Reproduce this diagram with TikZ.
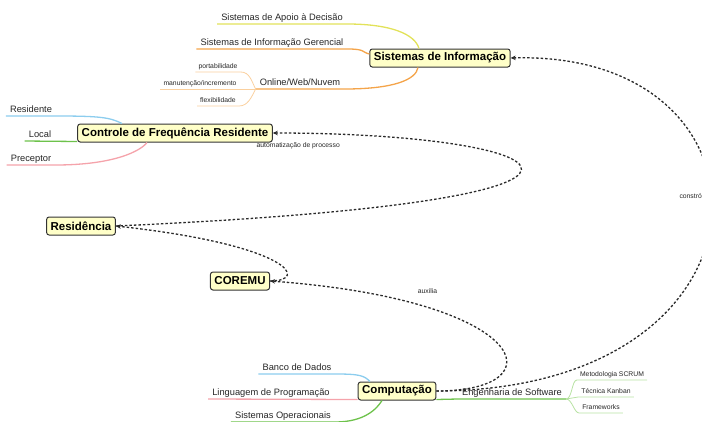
\documentclass[tikz,border=0pt]{standalone}
\usepackage{fontspec}
\setmainfont{Liberation Sans}
\usetikzlibrary{arrows.meta,positioning}

\definecolor{boxfill}{HTML}{FFFFC8}
\definecolor{boxline}{HTML}{333333}
\definecolor{lineY}{HTML}{E2E25A}
\definecolor{lineO}{HTML}{F4A44A}
\definecolor{lineLO}{HTML}{FAD09E}
\definecolor{lineB}{HTML}{8CCDEE}
\definecolor{lineG}{HTML}{6DC24B}
\definecolor{lineLG}{HTML}{B8E2A3}
\definecolor{lineP}{HTML}{F5A3AB}
\definecolor{dashc}{HTML}{2A2A2A}

\begin{document}
\begin{tikzpicture}[x=1pt,y=-1pt,>={Stealth[length=5pt,width=4.5pt]}]
  \tikzstyle{nodeM}=[draw=boxline,line width=1pt,fill=boxfill,rounded corners=2.5pt,inner xsep=4pt,minimum height=18pt,font=\fontsize{11.5}{13}\selectfont\bfseries]
  \tikzstyle{nodeT}=[anchor=south,inner xsep=4pt,inner ysep=1.5pt,text depth=2pt,text=black!85,font=\fontsize{9.3}{11}\selectfont]
  \tikzstyle{nodeS}=[nodeT,inner xsep=3pt,text depth=1.5pt,font=\fontsize{6.8}{8}\selectfont]
  \tikzstyle{lineM}=[line width=1.3pt]
  \tikzstyle{lineS}=[line width=0.8pt]
  \tikzstyle{link}=[->,draw=dashc,line width=1.3pt,dash pattern=on 2.5pt off 2pt]
  \tikzstyle{linkL}=[text=black!85,font=\fontsize{6.8}{8}\selectfont]

  \useasboundingbox (0,0) rectangle (702,421);

  % Main nodes
  \node[nodeM] (si)     at (440,58)  {Sistemas de Informação};
  \node[nodeM] (ctrl)   at (175,133) {Controle de Frequência Residente};
  \node[nodeM] (resi)   at (81,226)  {Residência};
  \node[nodeM] (coremu) at (240,281) {COREMU};
  \node[nodeM] (comp)   at (397,391) {Computação};

  % Sistemas de Informacao
  \node[nodeT] (sad)   at (282,24)  {Sistemas de Apoio à Decisão};
  \node[nodeT] (sig)   at (272,49)  {Sistemas de Informação Gerencial};
  \node[nodeT] (owb)   at (300,89)  {Online/Web/Nuvem};
  \node[nodeS] (port)  at (218,72)  {portabilidade};
  \node[nodeS] (manut) at (200,89)  {manutenção/incremento};
  \node[nodeS] (flex)  at (218,106) {flexibilidade};

  \draw[lineM,lineY] (sad.south west) -- (sad.south east)
    .. controls +(45,0) and +(-4,-14) .. ([xshift=-21pt]si.north);
  \draw[lineM,lineO] (sig.south west) -- (sig.south east)
    .. controls +(18,0) and +(-8,-2) .. ([yshift=4pt]si.west);
  \draw[lineM,lineO] (owb.south west) -- (owb.south east)
    .. controls +(50,0) and +(-2,12) .. ([xshift=-22pt]si.south);
  \draw[lineS,lineLO] (port.south west) -- (port.south east)
    .. controls +(9,0) and +(-4,-8) .. (owb.south west);
  \draw[lineS,lineLO] (manut.south west) -- (owb.south west);
  \draw[lineS,lineLO] (flex.south west) -- (flex.south east)
    .. controls +(9,0) and +(-4,8) .. (owb.south west);

  % Controle de Frequencia
  \node[nodeT] (resid)  at (31,116) {Residente};
  \node[nodeT] (local)  at (40,141) {Local};
  \node[nodeT] (precep) at (31,165) {Preceptor};

  \draw[lineM,lineB] (resid.south west) -- (resid.south east)
    .. controls +(45,0) and +(-12,-6) .. ([xshift=-53pt]ctrl.north);
  \draw[lineM,lineG] (local.south west) -- ([yshift=1pt]ctrl.south west);
  \draw[lineM,lineP] (precep.south west) -- (precep.south east)
    .. controls +(60,0) and +(-6,8) .. ([xshift=-28pt]ctrl.south);

  % Computacao
  \node[nodeT] (bd) at (297,374) {Banco de Dados};
  \node[nodeT] (lp) at (271,399) {Linguagem de Programação};
  \node[nodeT] (so) at (283,422) {Sistemas Operacionais};
  \node[nodeT] (es) at (512,399) {Engenharia de Software};
  \node[nodeS] (scrum)  at (612,380) {Metodologia SCRUM};
  \node[nodeS] (kanban) at (606,397) {Técnica Kanban};
  \node[nodeS] (frame)  at (601,413) {Frameworks};

  \draw[lineM,lineB] (bd.south west) -- (bd.south east)
    .. controls +(24,0) and +(-6,-6) .. ([xshift=-27pt]comp.north);
  \draw[lineM,lineP] (lp.south west) -- ([yshift=1pt]comp.south west);
  \draw[lineM,lineG] (so.south west) -- (so.south east)
    .. controls +(30,0) and +(-5,8) .. ([xshift=-15pt]comp.south);
  \draw[lineM,lineG] ([yshift=1pt]comp.south east) -- (es.south west) -- (es.south east);
  \draw[lineS,lineLG] (es.south east) .. controls +(6,0) and +(-5,0) .. (scrum.south west) -- (scrum.south east);
  \draw[lineS,lineLG] (es.south east) -- (kanban.south west) -- (kanban.south east);
  \draw[lineS,lineLG] (es.south east) .. controls +(6,0) and +(-5,0) .. (frame.south west) -- (frame.south east);

  % relations
  \draw[link] (comp.east) .. controls (790,390) and (790,50) .. (si.east)
    node[linkL,pos=0.55,left=4pt] {constrói};
  \draw[link] (resi.east) .. controls (700,200) and (560,133) .. (ctrl.east)
    node[linkL,pos=0.97,below=5pt] {automatização de processo};
  \draw[link] (coremu.east) .. controls (310,281) and (290,245) .. (resi.east);
  \draw[link] (comp.east) .. controls (560,391) and (530,300) .. (coremu.east)
    node[linkL,pos=0.74,above=10pt] {auxilia};
\end{tikzpicture}
\end{document}
